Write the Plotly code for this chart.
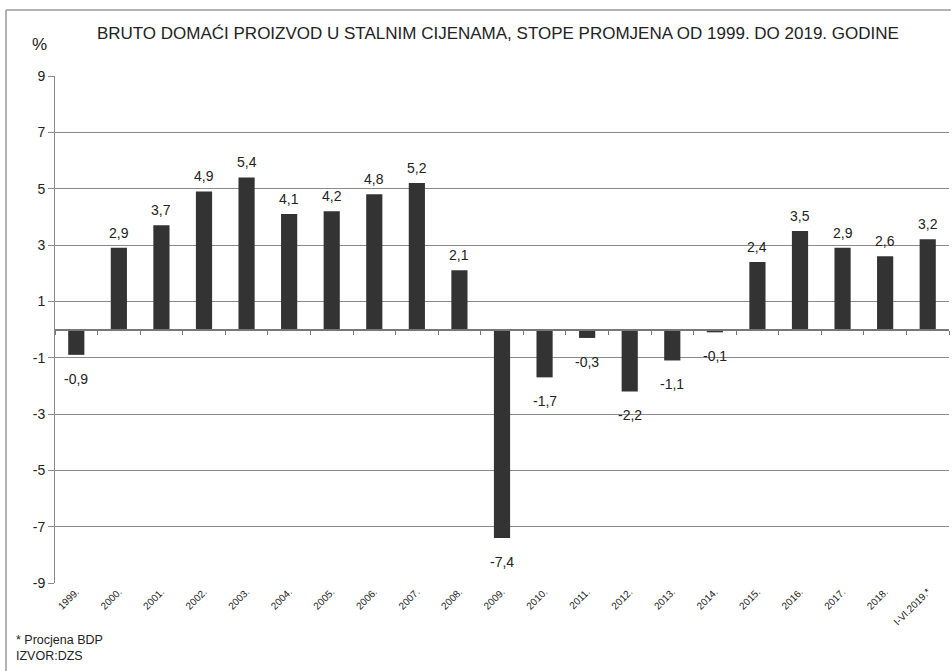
import plotly.graph_objects as go

years = ["1999.", "2000.", "2001.", "2002.", "2003.", "2004.", "2005.", "2006.",
         "2007.", "2008.", "2009.", "2010.", "2011.", "2012.", "2013.", "2014.",
         "2015.", "2016.", "2017.", "2018.", "I-VI.2019.*"]
growth = [-0.9, 2.9, 3.7, 4.9, 5.4, 4.1, 4.2, 4.8, 5.2, 2.1, -7.4, -1.7, -0.3,
          -2.2, -1.1, -0.1, 2.4, 3.5, 2.9, 2.6, 3.2]
y_ticks = [9, 7, 5, 3, 1, -1, -3, -5, -7, -9]

FONT = "Liberation Sans, Arial, sans-serif"
TXT = "#222"

fig = go.Figure()
fig.add_trace(go.Bar(
    x=years, y=growth,
    marker=dict(color="#333333", line=dict(width=0)),
    showlegend=False, hoverinfo="x+y",
))
# invisible trace that activates the zero-line axis with boundary ticks
fig.add_trace(go.Scatter(x=years, y=[0] * len(years), xaxis="x2", mode="lines",
                         line=dict(width=0), showlegend=False, hoverinfo="skip"))

# value labels above positive bars, below negative ones
# (category labels like "1999." look numeric, so annotations use the category index)
value_labels = []
for i, v in enumerate(growth):
    value_labels.append(dict(
        x=i, y=v, xref="x", yref="y", showarrow=False,
        text=f"{v:.1f}".replace(".", ","),
        yanchor="bottom" if v >= 0 else "top",
        yshift=5 if v >= 0 else -14,
        font=dict(family=FONT, size=14, color=TXT),
    ))

fig.update_layout(
    width=952, height=671,
    margin=dict(l=55, r=3, t=76, b=88),
    paper_bgcolor="white", plot_bgcolor="white",
    bargap=0.62,
    font=dict(family=FONT, color=TXT),
    title=dict(text="BRUTO DOMAĆI PROIZVOD U STALNIM CIJENAMA, STOPE PROMJENA OD 1999. DO 2019. GODINE",
               x=0.523, xanchor="center", y=0.951, yanchor="middle",
               font=dict(family=FONT, size=17, color=TXT)),
    xaxis=dict(
        type="category", tickangle=-45, ticks="", showgrid=False, showline=False,
        tickfont=dict(family=FONT, size=10, color=TXT), zeroline=False,
    ),
    xaxis2=dict(
        type="category", overlaying="x", matches="x", anchor="free", position=0.5,
        side="bottom", showticklabels=False, showgrid=False,
        showline=True, linecolor="#777", linewidth=2,
        ticks="outside", tickson="boundaries", ticklen=4, tickcolor="#777", tickwidth=1,
    ),
    yaxis=dict(
        range=[-9, 9], tickvals=y_ticks, ticktext=[str(v) for v in y_ticks],
        showgrid=True, gridcolor="#8a8a8a", gridwidth=1, zeroline=False,
        showline=True, linecolor="#8a8a8a", linewidth=1,
        ticks="outside", ticklen=6, tickcolor="#8a8a8a",
        tickfont=dict(family=FONT, size=14, color=TXT),
    ),
    shapes=[
        dict(type="line", xref="paper", yref="paper", x0=-0.0548, x1=1.002,
             y0=1.13, y1=1.13, line=dict(color="#999", width=1.5)),
        dict(type="line", xref="paper", yref="paper", x0=-0.0548, x1=-0.0548,
             y0=1.13, y1=-0.2, line=dict(color="#999", width=1.5)),
    ],
    annotations=value_labels + [
        dict(text="%", xref="paper", yref="paper", x=-0.007, y=1.063,
             xanchor="right", yanchor="middle", showarrow=False,
             font=dict(family=FONT, size=17, color=TXT)),
        dict(text="* Procjena BDP<br>IZVOR:DZS", xref="paper", yref="paper",
             x=-0.046, y=-0.094, xanchor="left", yanchor="top", align="left",
             showarrow=False, font=dict(family=FONT, size=12.5, color=TXT)),
    ],
)

fig.write_html("out.html")
